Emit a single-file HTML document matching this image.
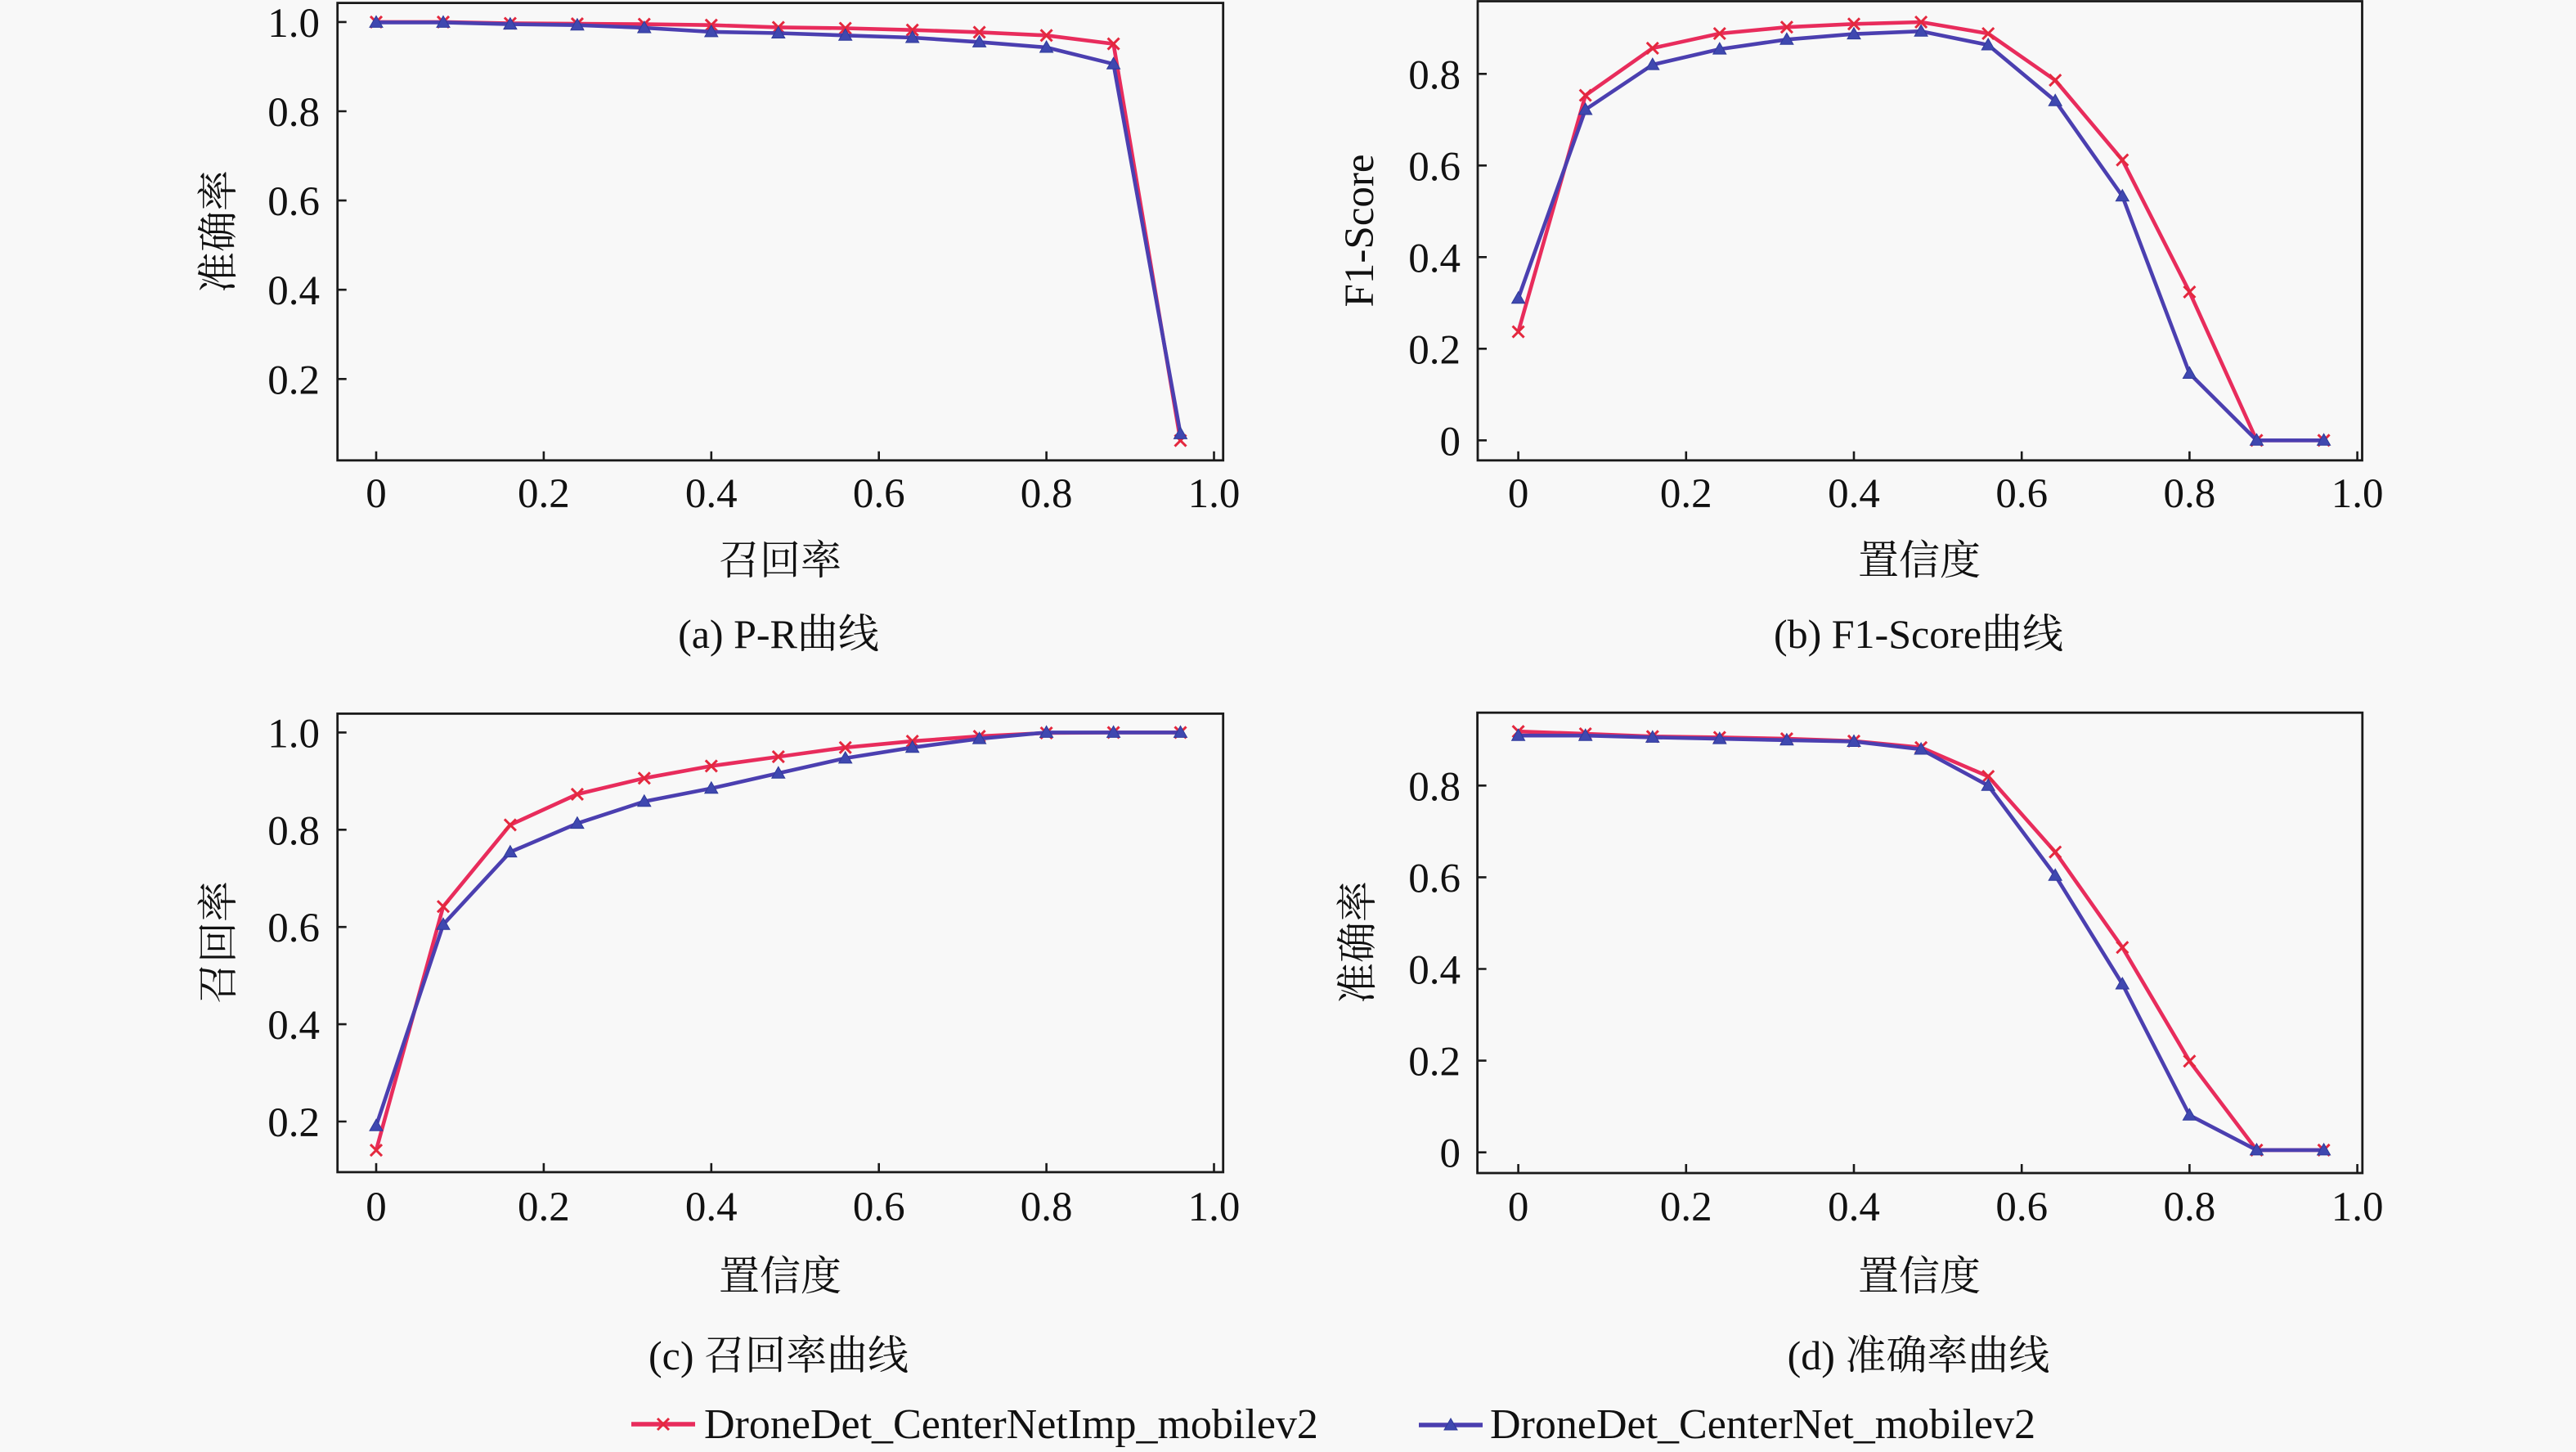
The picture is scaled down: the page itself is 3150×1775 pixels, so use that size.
<!DOCTYPE html>
<html><head><meta charset="utf-8">
<style>
html,body{margin:0;padding:0;background:#f8f8f8;}
svg{display:block;}
text{font-family:"Liberation Serif","Noto Serif CJK SC",serif;fill:#111;}
</style></head>
<body>
<svg width="3150" height="1775" viewBox="0 0 3150 1775" xmlns="http://www.w3.org/2000/svg">
<defs>
<marker id="mx" markerUnits="userSpaceOnUse" markerWidth="20" markerHeight="20" refX="10" refY="10" overflow="visible">
<path d="M3,3 L17,17 M17,3 L3,17" stroke="#e4283e" stroke-width="3" fill="none"/>
</marker>
<marker id="mt" markerUnits="userSpaceOnUse" markerWidth="20" markerHeight="20" refX="10" refY="10" overflow="visible">
<path d="M10,2 L18,16 L2,16 Z" fill="#3f48b0" stroke="#2f3a9a" stroke-width="1"/>
</marker>
</defs>
<rect width="3150" height="1775" fill="#f8f8f8"/>

<g fill="none" stroke="#1a1a1a" stroke-width="2.8">
<rect x="412.7" y="3.6" width="1083" height="559.2"/>
<rect x="1807" y="1.5" width="1081.5" height="561.3"/>
<rect x="412.7" y="872.4" width="1083" height="560.5"/>
<rect x="1806.6" y="871.2" width="1082.2" height="562.8"/>
</g>

<!-- ticks -->
<g stroke="#1a1a1a" stroke-width="2.6">
<path d="M460,562.8v-11 M664.9,562.8v-11 M869.8,562.8v-11 M1074.7,562.8v-11 M1279.6,562.8v-11 M1484.5,562.8v-11"/>
<path d="M412.7,463.3h11 M412.7,354.2h11 M412.7,245.1h11 M412.7,136h11 M412.7,26.9h11"/>
<path d="M1856.6,562.8v-11 M2061.8,562.8v-11 M2267,562.8v-11 M2472.2,562.8v-11 M2677.4,562.8v-11 M2882.6,562.8v-11"/>
<path d="M1807,538.3h11 M1807,426.3h11 M1807,314.3h11 M1807,202.3h11 M1807,90.3h11"/>
<path d="M460,1432.9v-11 M664.9,1432.9v-11 M869.8,1432.9v-11 M1074.7,1432.9v-11 M1279.6,1432.9v-11 M1484.5,1432.9v-11"/>
<path d="M412.7,1371h11 M412.7,1252.1h11 M412.7,1133.2h11 M412.7,1014.3h11 M412.7,895.4h11"/>
<path d="M1856.6,1434v-11 M2061.8,1434v-11 M2267,1434v-11 M2472.2,1434v-11 M2677.4,1434v-11 M2882.6,1434v-11"/>
<path d="M1806.6,1408.7h11 M1806.6,1296.6h11 M1806.6,1184.5h11 M1806.6,1072.4h11 M1806.6,960.3h11"/>
</g>

<!-- tick labels -->
<g font-size="51" text-anchor="middle">
<text x="460" y="620">0</text><text x="664.9" y="620">0.2</text><text x="869.8" y="620">0.4</text><text x="1074.7" y="620">0.6</text><text x="1279.6" y="620">0.8</text><text x="1484.5" y="620">1.0</text>
<text x="1856.6" y="620">0</text><text x="2061.8" y="620">0.2</text><text x="2267" y="620">0.4</text><text x="2472.2" y="620">0.6</text><text x="2677.4" y="620">0.8</text><text x="2882.6" y="620">1.0</text>
<text x="460" y="1492">0</text><text x="664.9" y="1492">0.2</text><text x="869.8" y="1492">0.4</text><text x="1074.7" y="1492">0.6</text><text x="1279.6" y="1492">0.8</text><text x="1484.5" y="1492">1.0</text>
<text x="1856.6" y="1492">0</text><text x="2061.8" y="1492">0.2</text><text x="2267" y="1492">0.4</text><text x="2472.2" y="1492">0.6</text><text x="2677.4" y="1492">0.8</text><text x="2882.6" y="1492">1.0</text>
</g>
<g font-size="51" text-anchor="end">
<text x="391" y="481.3">0.2</text><text x="391" y="372.2">0.4</text><text x="391" y="263.1">0.6</text><text x="391" y="154">0.8</text><text x="391" y="44.9">1.0</text>
<text x="1786" y="556.3">0</text><text x="1786" y="444.3">0.2</text><text x="1786" y="332.3">0.4</text><text x="1786" y="220.3">0.6</text><text x="1786" y="108.3">0.8</text>
<text x="391" y="1389">0.2</text><text x="391" y="1270.1">0.4</text><text x="391" y="1151.2">0.6</text><text x="391" y="1032.3">0.8</text><text x="391" y="913.4">1.0</text>
<text x="1786" y="1426.7">0</text><text x="1786" y="1314.6">0.2</text><text x="1786" y="1202.5">0.4</text><text x="1786" y="1090.4">0.6</text><text x="1786" y="978.3">0.8</text>
</g>

<!-- axis labels -->
<g font-size="50" text-anchor="middle">
<text x="954" y="702">召回率</text>
<text x="2347" y="702">置信度</text>
<text x="954" y="1577">置信度</text>
<text x="2347" y="1577">置信度</text>
<text transform="translate(284,283) rotate(-90)">准确率</text>
<text transform="translate(1679,282) rotate(-90)" font-size="51">F1-Score</text>
<text transform="translate(284,1152) rotate(-90)">召回率</text>
<text transform="translate(1677,1152) rotate(-90)">准确率</text>
<text x="952" y="792">(a) P-R曲线</text>
<text x="2346" y="792">(b) F1-Score曲线</text>
<text x="952" y="1674">(c) 召回率曲线</text>
<text x="2346" y="1674">(d) 准确率曲线</text>
</g>

<!-- series -->
<g fill="none" stroke-width="4.6" stroke-linejoin="round">
<polyline stroke="#e82c5c" marker-start="url(#mx)" marker-mid="url(#mx)" marker-end="url(#mx)" points="460,26.9 542,26.9 623.9,28.5 705.9,29.1 787.8,29.6 869.8,30.7 951.8,33.4 1033.7,34.5 1115.7,36.7 1197.6,39.4 1279.6,43.3 1361.6,53.6 1443.5,538.6"/>
<polyline stroke="#4b3fb0" marker-start="url(#mt)" marker-mid="url(#mt)" marker-end="url(#mt)" points="460,27.4 542,27.4 623.9,29.6 705.9,30.7 787.8,34 869.8,38.9 951.8,40.5 1033.7,43.3 1115.7,46 1197.6,51.4 1279.6,58 1361.6,78.2 1443.5,530.4"/>
<polyline stroke="#e82c5c" marker-start="url(#mx)" marker-mid="url(#mx)" marker-end="url(#mx)" points="1856.6,405.6 1938.7,116.6 2020.8,58.9 2102.8,41 2184.9,33.2 2267,29.3 2349.1,27 2431.2,41 2513.2,98.1 2595.3,195.6 2677.4,356.9 2759.5,538.3 2841.6,538.3"/>
<polyline stroke="#4b3fb0" marker-start="url(#mt)" marker-mid="url(#mt)" marker-end="url(#mt)" points="1856.6,364.7 1938.7,134 2020.8,79.1 2102.8,60.1 2184.9,48.3 2267,41.6 2349.1,38.2 2431.2,55 2513.2,123.3 2595.3,239.8 2677.4,456.5 2759.5,538.3 2841.6,538.3"/>
<polyline stroke="#e82c5c" marker-start="url(#mx)" marker-mid="url(#mx)" marker-end="url(#mx)" points="460,1406.1 542,1108.2 623.9,1008.4 705.9,970.9 787.8,951.3 869.8,936.4 951.8,925.1 1033.7,913.8 1115.7,906.1 1197.6,900.1 1279.6,896 1361.6,895.4 1443.5,895.4"/>
<polyline stroke="#4b3fb0" marker-start="url(#mt)" marker-mid="url(#mt)" marker-end="url(#mt)" points="460,1376.3 542,1130.2 623.9,1041.6 705.9,1006.6 787.8,979.8 869.8,963.8 951.8,945.3 1033.7,926.9 1115.7,913.8 1197.6,903.1 1279.6,895.4 1361.6,895.4 1443.5,895.4"/>
<polyline stroke="#e82c5c" marker-start="url(#mx)" marker-mid="url(#mx)" marker-end="url(#mx)" points="1856.6,894.2 1938.7,897 2020.8,900.3 2102.8,901.4 2184.9,903.1 2267,905.9 2349.1,913.8 2431.2,949.1 2513.2,1041.6 2595.3,1158.2 2677.4,1297.2 2759.5,1405.9 2841.6,1405.9"/>
<polyline stroke="#4b3fb0" marker-start="url(#mt)" marker-mid="url(#mt)" marker-end="url(#mt)" points="1856.6,899.2 1938.7,899.2 2020.8,901.4 2102.8,903.1 2184.9,904.8 2267,906.5 2349.1,916 2431.2,960.3 2513.2,1070.2 2595.3,1203 2677.4,1363.3 2759.5,1405.9 2841.6,1405.9"/>
</g>

<!-- legend -->
<g fill="none" stroke-width="5.5">
<polyline stroke="#e82c5c" marker-mid="url(#mx)" points="772,1741 811,1741 850,1741"/>
<polyline stroke="#4b3fb0" marker-mid="url(#mt)" points="1735,1742 1774,1742 1813,1742"/>
</g>
<g font-size="52">
<text x="861" y="1758">DroneDet_CenterNetImp_mobilev2</text>
<text x="1822" y="1758">DroneDet_CenterNet_mobilev2</text>
</g>
</svg>
</body></html>
